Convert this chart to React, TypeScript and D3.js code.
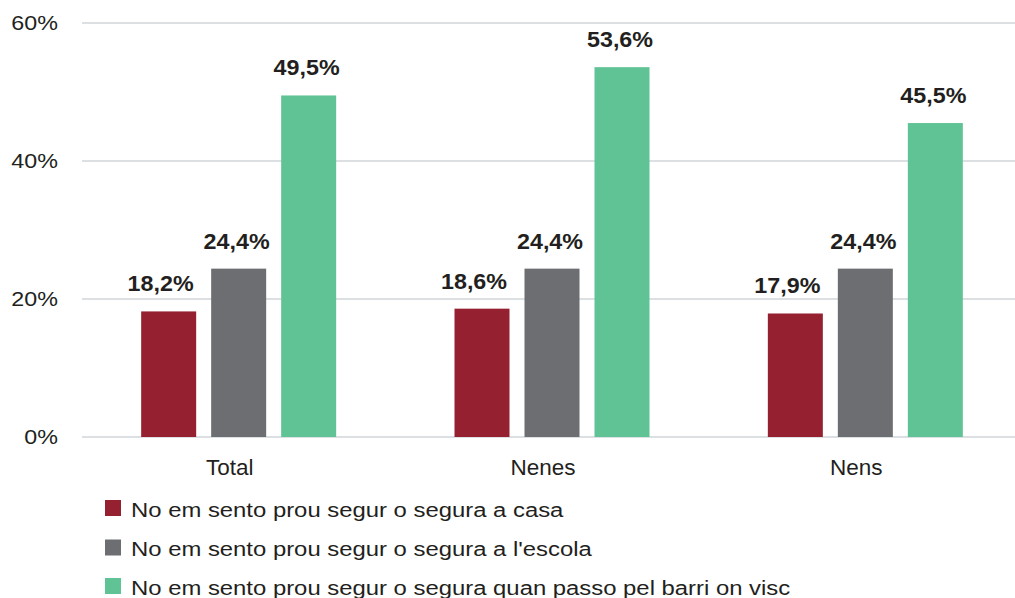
import React from "react";
import * as d3 from "d3";

const categories = ["Total", "Nenes", "Nens"];
const seriesNames = [
  "No em sento prou segur o segura a casa",
  "No em sento prou segur o segura a l'escola",
  "No em sento prou segur o segura quan passo pel barri on visc",
];
const casaValues = [18.2, 18.6, 17.9];
const escolaValues = [24.4, 24.4, 24.4];
const barriValues = [49.5, 53.6, 45.5];
const seriesValues = [casaValues, escolaValues, barriValues];
const colors = ["#952030", "#6d6e71", "#60c395"];
const labelDx = [-8, -2, -2];
const yTicks = [0, 20, 40, 60];

const W = 1015;
const H = 598;
const FONT = "'Liberation Sans', Arial, Helvetica, sans-serif";
const INK = "#231f20";

type TProps = {
  x: number;
  y: number;
  sx: number;
  anchor?: "start" | "middle" | "end";
  size: number;
  bold?: boolean;
  dy?: string;
  children: React.ReactNode;
};

function T({ x, y, sx, anchor = "start", size, bold, dy, children }: TProps) {
  return (
    <g transform={`translate(${x},${y}) scale(${sx},1)`}>
      <text
        x={0}
        y={0}
        dy={dy}
        textAnchor={anchor}
        fontSize={size}
        fontWeight={bold ? "bold" : "normal"}
        fill={INK}
      >
        {children}
      </text>
    </g>
  );
}

export default function App() {
  const y = d3.scaleLinear().domain([0, 60]).range([437, 23]);
  const x0 = d3.scaleBand<string>().domain(categories).range([82, 1022]).padding(0);
  const p = 15 / 70;
  const x1 = d3
    .scaleBand<number>()
    .domain(d3.range(seriesNames.length))
    .range([0, 210])
    .paddingInner(p)
    .paddingOuter(p / 2);
  const fmt = (v: number) => v.toFixed(1).replace(".", ",") + "%";

  return (
    <svg
      width={W}
      height={H}
      style={{ position: "absolute", left: 0, top: 0, background: "#fff" }}
      fontFamily={FONT}
    >
      {yTicks.map((t) => (
        <g key={t}>
          <line x1={82} x2={W} y1={y(t)} y2={y(t)} stroke="#b9c1c8" strokeWidth={1.2} />
          <T x={58} y={y(t)} sx={1.11} anchor="end" size={21} dy="0.35em">
            {t}%
          </T>
        </g>
      ))}
      {categories.map((c, ci) => {
        const gx = (x0(c) as number) + x0.bandwidth() / 2 - 105;
        return (
          <g key={c}>
            {seriesValues.map((vals, si) => {
              const bx = gx + (x1(si) as number);
              const v = vals[ci];
              return (
                <g key={si}>
                  <rect
                    x={bx}
                    y={y(v)}
                    width={x1.bandwidth()}
                    height={y(0) - y(v)}
                    fill={colors[si]}
                  />
                  <T
                    x={bx + x1.bandwidth() / 2 + labelDx[si]}
                    y={y(v) - 20}
                    sx={1.06}
                    anchor="middle"
                    size={22}
                    bold
                  >
                    {fmt(v)}
                  </T>
                </g>
              );
            })}
            <T
              x={(x0(c) as number) + x0.bandwidth() / 2 - 9}
              y={475}
              sx={1.0}
              anchor="middle"
              size={22.5}
            >
              {c}
            </T>
          </g>
        );
      })}
      {seriesNames.map((s, i) => {
        const ly = [516.5, 556, 594.5][i];
        return (
          <g key={s}>
            <rect x={105} y={ly - 16.5} width={16} height={16} fill={colors[i]} />
            <T x={131} y={ly} sx={1.137} size={21}>
              {s}
            </T>
          </g>
        );
      })}
    </svg>
  );
}
